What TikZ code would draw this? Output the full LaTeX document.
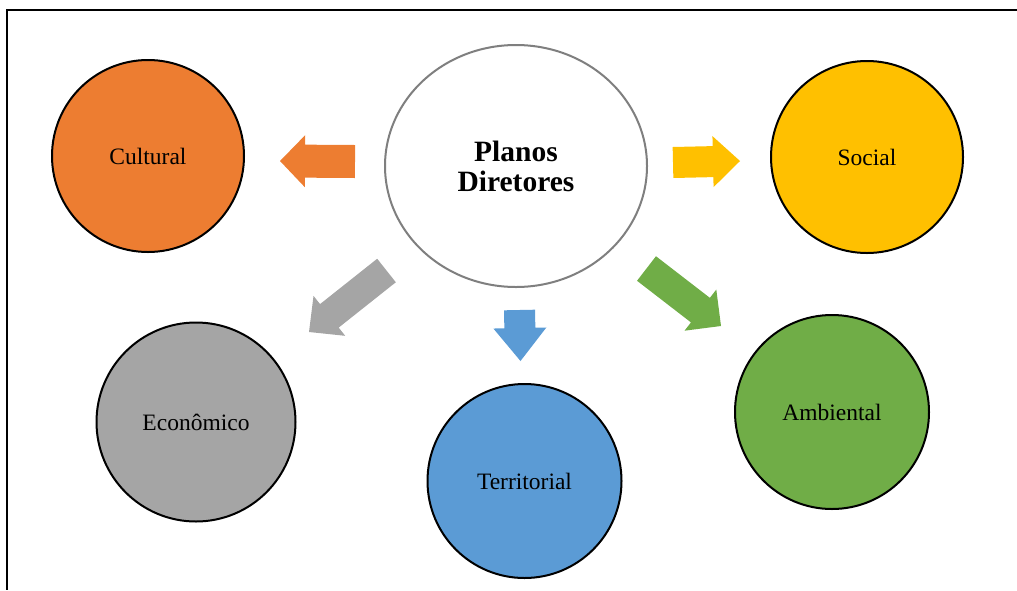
\documentclass[tikz,border=0pt]{standalone}
\usepackage{fontspec}
\setmainfont{Liberation Serif}
\usetikzlibrary{calc,shapes.geometric}
\definecolor{cOrange}{HTML}{ED7D31}
\definecolor{cGray}{HTML}{A5A5A5}
\definecolor{cBlue}{HTML}{5B9BD5}
\definecolor{cYellow}{HTML}{FFC000}
\definecolor{cGreen}{HTML}{70AD47}
\definecolor{cRing}{HTML}{7F7F7F}
% fat block arrow: tail, tip, half shaft width, half head width, head length, colour
\newcommand{\fatarrow}[6]{%
  \coordinate (hb) at ($(#2)!#5pt!(#1)$);
  \fill[#6] ($(#1)!#3pt!90:(#2)$) -- ($(hb)!#3pt!-90:(#1)$) -- ($(hb)!#4pt!-90:(#1)$)
    -- (#2) -- ($(hb)!#4pt!90:(#1)$) -- ($(hb)!#3pt!90:(#1)$) -- ($(#1)!#3pt!-90:(#2)$) -- cycle;
}
\tikzset{
  disc/.style={circle, draw=black, line width=2pt, inner sep=0pt, minimum size=#1,
    font=\fontsize{23.5}{26}\selectfont},
  hubshape/.style={ellipse, draw=cRing, line width=2pt, fill=white, inner sep=0pt,
    minimum width=262pt, minimum height=242pt, align=center,
    font=\bfseries\fontsize{29.5}{30}\selectfont},
}
\begin{document}
\begin{tikzpicture}[x=1pt,y=-1pt]
\useasboundingbox (0,0) rectangle (1017,590);
\draw[line width=2pt] (1017,10) -- (7,10) -- (7,590);
% hub
\node[hubshape] (hub) at (516,166) {Planos\\Diretores};
% satellites
\node[disc=192pt, fill=cOrange] (cul) at (148,156) {Cultural};
\node[disc=192pt, fill=cYellow] (soc) at (867,157) {Social};
\node[disc=199pt, fill=cGray] (eco) at (196,422) {Econômico};
\node[disc=194pt, fill=cBlue] (ter) at (524.5,481) {Territorial};
\node[disc=194pt, fill=cGreen] (amb) at (832,412) {Ambiental};
% arrows
\coordinate (oT) at (355,161.5); \coordinate (oH) at (280,161);
\coordinate (yT) at (673,162.5); \coordinate (yH) at (740,161);
\coordinate (gT) at (386.5,270.5); \coordinate (gH) at (309,332);
\coordinate (nT) at (646.5,268.5); \coordinate (nH) at (721,326);
\coordinate (bT) at (519.5,310); \coordinate (bH) at (520.5,361);
\fatarrow{oT}{oH}{16.5}{26}{25}{cOrange}
\fatarrow{yT}{yH}{15.5}{25.5}{27}{cYellow}
\fatarrow{gT}{gH}{15}{25.5}{26}{cGray}
\fatarrow{nT}{nH}{15.5}{26}{26}{cGreen}
\fatarrow{bT}{bH}{15.5}{26.5}{33}{cBlue}
\end{tikzpicture}
\end{document}
